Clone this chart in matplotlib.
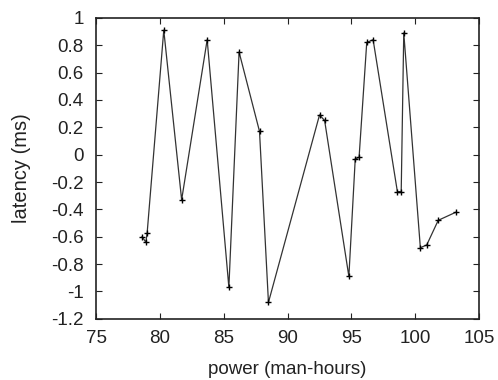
import matplotlib
matplotlib.use('Agg')
import matplotlib.pyplot as plt

# power (man-hours) vs latency (ms)
power = [78.6, 78.9, 79.0, 80.3, 81.7, 83.7, 85.4, 86.2, 87.8, 88.5,
         92.5, 92.9, 94.8, 95.3, 95.6, 96.2, 96.7, 98.6, 98.9, 99.1,
         100.4, 100.9, 101.8, 103.2]
latency = [-0.60, -0.64, -0.57, 0.91, -0.33, 0.84, -0.97, 0.75, 0.17, -1.08,
           0.29, 0.25, -0.89, -0.03, -0.02, 0.82, 0.84, -0.27, -0.27, 0.89,
           -0.68, -0.66, -0.48, -0.42]

xticks = [75, 80, 85, 90, 95, 100, 105]
yticks = [-1.2, -1, -0.8, -0.6, -0.4, -0.2, 0, 0.2, 0.4, 0.6, 0.8, 1]

plt.rcParams['font.family'] = ['Liberation Sans', 'DejaVu Sans']

fig = plt.figure(figsize=(4.98, 3.8), dpi=100)
ax = fig.add_axes([0.193, 0.161, 0.769, 0.792])

ax.plot(power, latency, color='#333333', lw=0.9, marker='+', ms=5,
        mec='black', mew=1.0)

ax.set_xlim(75, 105)
ax.set_ylim(-1.2, 1)
ax.set_xticks(xticks)
ax.set_yticks(yticks)
ax.set_xticklabels([str(t) for t in xticks])
ax.set_yticklabels(['%g' % t for t in yticks])
ax.tick_params(direction='in', top=True, right=True, length=4, width=0.8,
               labelsize=13.5, colors='#222222')
ax.tick_params(axis='x', pad=8)
ax.tick_params(axis='y', pad=9)
for s in ax.spines.values():
    s.set_linewidth(1.2)
    s.set_color('#222222')

ax.set_xlabel('power (man-hours)', fontsize=13.5, color='#222222')
ax.set_ylabel('latency (ms)', fontsize=14.5, color='#222222')
ax.xaxis.set_label_coords(0.5, -0.14)
ax.yaxis.set_label_coords(-0.17, 0.5)

fig.savefig('out.png', dpi=100)
